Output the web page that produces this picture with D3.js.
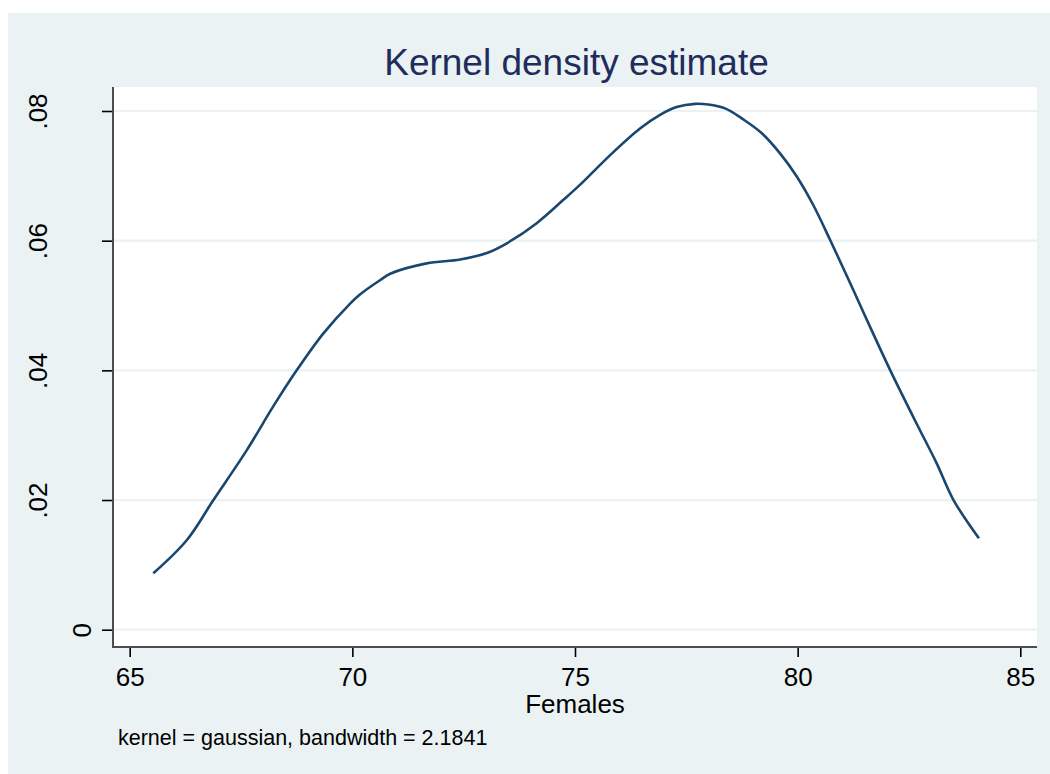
<!DOCTYPE html>
<html>
<head>
<meta charset="utf-8">
<script src="https://cdn.jsdelivr.net/npm/d3@7"></script>
<style>
  html, body { margin: 0; padding: 0; background: #ffffff; }
  svg { display: block; }
  text { font-family: "Liberation Sans", Arial, Helvetica, sans-serif; }
</style>
</head>
<body>
<svg id="chart" width="1050" height="774"></svg>
<script>
// Estimated density of female life expectancy (evaluation points and heights)
const evalPoints = [65.53, 66.28, 66.88, 67.63, 68.22, 68.75, 69.35, 69.95, 70.17, 70.62,
  70.85, 71.67, 72.42, 73.02, 73.47, 74.14, 74.74, 75.11, 75.79, 76.46,
  76.91, 77.28, 77.70, 77.99, 78.37, 78.78, 79.19, 79.60, 79.98, 80.35,
  80.73, 81.25, 81.66, 82.08, 82.67, 83.12, 83.50, 84.07];
const densities = [0.0087, 0.0138, 0.0200, 0.0277, 0.0344, 0.0400, 0.0457, 0.0503, 0.0517, 0.0539,
  0.0549, 0.0565, 0.0571, 0.0581, 0.0596, 0.0627, 0.0663, 0.0686, 0.0732, 0.0773,
  0.0794, 0.0806, 0.0811, 0.0810, 0.0804, 0.0787, 0.0766, 0.0735, 0.0699, 0.0655,
  0.0601, 0.0524, 0.0462, 0.0400, 0.0318, 0.0257, 0.0200, 0.0141];
const xTicks = [65, 70, 75, 80, 85];
const yTicks = [0, 0.02, 0.04, 0.06, 0.08];
const yTickLabels = ["0", ".02", ".04", ".06", ".08"];
const titleText = "Kernel density estimate";
const xTitle = "Females";
const noteText = "kernel = gaussian, bandwidth = 2.1841";

const svg = d3.select("#chart");
const bg = "#eaf2f3";
const lineColor = "#1a476f";

// Graph background
svg.append("rect").attr("x", 8).attr("y", 13).attr("width", 1042).attr("height", 761).attr("fill", bg);

// Plot region
const region = { left: 113, right: 1037, top: 87, bottom: 647 };
svg.append("rect")
  .attr("x", region.left).attr("y", region.top)
  .attr("width", region.right - region.left).attr("height", region.bottom - region.top)
  .attr("fill", "#ffffff");

const x = d3.scaleLinear().domain([65, 85]).range([129.7, 1020.3]);
const y = d3.scaleLinear().domain([0, 0.08]).range([629.7, 111]);

// Horizontal grid lines
svg.append("g").selectAll("line").data(yTicks).join("line")
  .attr("x1", region.left + 1).attr("x2", region.right)
  .attr("y1", d => y(d)).attr("y2", d => y(d))
  .attr("stroke", bg).attr("stroke-width", 2.2);

// Density curve
const line = d3.line().x((d, i) => x(evalPoints[i])).y(d => y(d)).curve(d3.curveCatmullRom.alpha(0.5));
svg.append("path").datum(densities)
  .attr("d", line)
  .attr("fill", "none").attr("stroke", lineColor)
  .attr("stroke-width", 2.6).attr("stroke-linejoin", "round");

// Y axis
const yAxis = svg.append("g").attr("transform", `translate(${region.left},0)`)
  .call(d3.axisLeft(y).tickValues(yTicks).tickSize(11).tickSizeOuter(0)
    .tickFormat((d, i) => yTickLabels[i]));
yAxis.select(".domain").remove();
yAxis.selectAll(".tick line").attr("stroke", "#000").attr("stroke-width", 1.6);
yAxis.selectAll(".tick text")
  .attr("fill", "#000").attr("font-size", 26)
  .attr("text-anchor", "middle").attr("dy", null).attr("x", null)
  .attr("transform", d => `translate(${(d === 0 ? 91 : 47) - region.left},0) rotate(-90)`);
svg.append("line")
  .attr("x1", region.left).attr("x2", region.left)
  .attr("y1", region.top).attr("y2", region.bottom + 1)
  .attr("stroke", "#4d4d4d").attr("stroke-width", 2);

// X axis
const xAxis = svg.append("g").attr("transform", `translate(0,${region.bottom})`)
  .call(d3.axisBottom(x).tickValues(xTicks).tickSize(10).tickSizeOuter(0).tickFormat(d3.format("d")));
xAxis.select(".domain").remove();
xAxis.selectAll(".tick line").attr("stroke", "#000").attr("stroke-width", 1.6);
xAxis.selectAll(".tick text")
  .attr("fill", "#000").attr("font-size", 26)
  .attr("dy", null).attr("y", 39);
svg.append("line")
  .attr("x1", region.left - 1).attr("x2", region.right)
  .attr("y1", region.bottom).attr("y2", region.bottom)
  .attr("stroke", "#4d4d4d").attr("stroke-width", 2);

// Titles and note
svg.append("text").attr("x", 576.5).attr("y", 75)
  .attr("text-anchor", "middle").attr("font-size", 37).attr("fill", "#1f2c5c")
  .text(titleText);
svg.append("text").attr("x", 575).attr("y", 713)
  .attr("text-anchor", "middle").attr("font-size", 26).attr("fill", "#000")
  .text(xTitle);
svg.append("text").attr("x", 118).attr("y", 745)
  .attr("font-size", 21.5).attr("fill", "#000")
  .text(noteText);
</script>
</body>
</html>
